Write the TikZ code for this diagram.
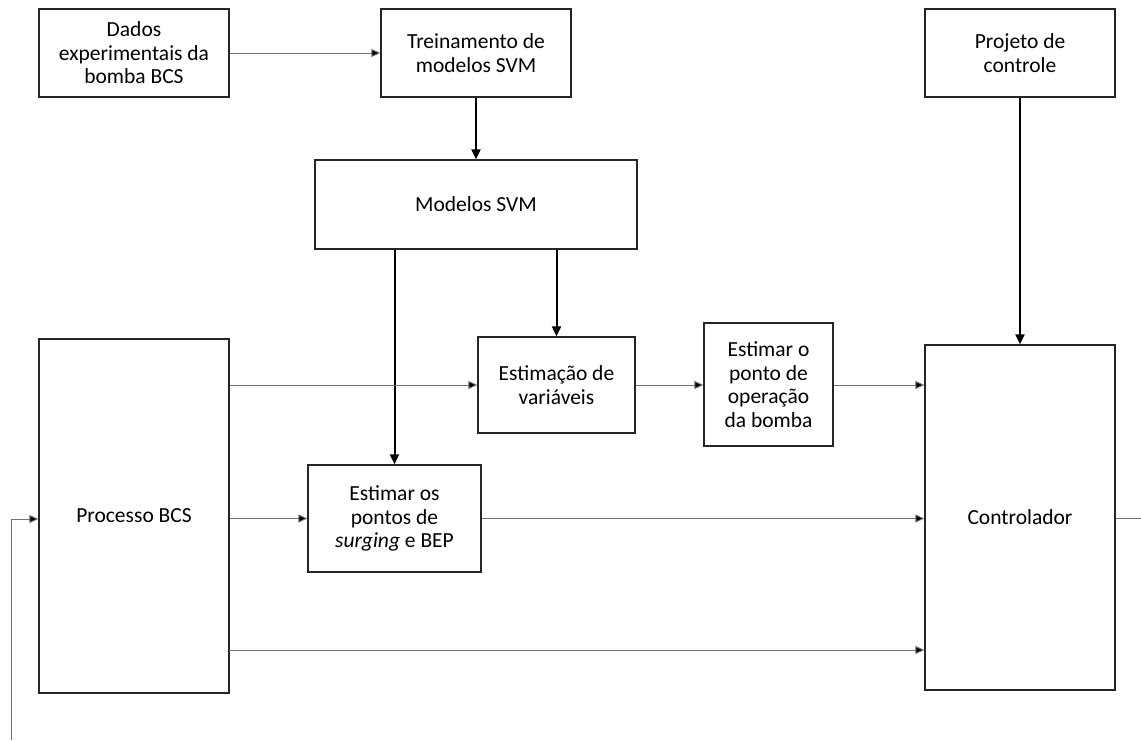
\documentclass[tikz,border=0pt]{standalone}
\usepackage{fontspec}
\setmainfont{Carlito}
\usetikzlibrary{arrows.meta}
\begin{document}
\begin{tikzpicture}[x=1pt,y=-1pt,
  blk/.style={draw=black!85,line width=1.3pt,align=center,inner sep=0pt,
    font=\fontsize{21.5}{23.5}\selectfont},
  thin/.style={draw=black!55,line width=0.9pt,-{Triangle[length=9pt,width=8pt,fill=black]}},
  thick/.style={draw=black,line width=2pt,-{Triangle[length=10pt,width=9pt]}},
  plain/.style={draw=black!55,line width=0.9pt}]
\useasboundingbox (0,0) rectangle (1141,740);
% blocks, placed by their centres
\node[blk,minimum width=190pt,minimum height=88pt] (dados) at (134,53) {Dados\\experimentais da\\bomba BCS};
\node[blk,minimum width=190pt,minimum height=88pt] (trein) at (476,53) {Treinamento de\\modelos SVM};
\node[blk,minimum width=190pt,minimum height=88pt] (proj) at (1020,53) {Projeto de\\controle};
\node[blk,minimum width=322pt,minimum height=89pt] (svm) at (476,204.5) {Modelos SVM};
\node[blk,minimum width=190pt,minimum height=354pt] (proc) at (134,516) {Processo BCS};
\node[blk,minimum width=157pt,minimum height=96pt] (estvar) at (556.5,385) {Estimação de\\variáveis};
\node[blk,minimum width=129pt,minimum height=123pt] (estop) at (768.5,384.5) {Estimar o\\ponto de\\operação\\da bomba};
\node[blk,minimum width=173pt,minimum height=107pt] (estsurg) at (394.5,518.5) {Estimar os\\pontos de\\\emph{surging} e BEP};
\node[blk,minimum width=190pt,minimum height=345pt] (ctrl) at (1020,517.5) {Controlador};
% free ends
\coordinate (low) at (229,650);
\coordinate (out) at (1141,518);
\coordinate (fb0) at (11,740);
\coordinate (fb1) at (11,519);
% thick connectors
\draw[thick] (trein.south) -- (svm.north);
\draw[thick] (proj.south) -- (ctrl.north);
\draw[thick] (svm.south -| estvar.north) -- (estvar.north);
\draw[thick] (svm.south -| estsurg.north) -- (estsurg.north);
% thin connectors
\draw[thin] (dados.east) -- (trein.west);
\draw[thin] (proc.east |- estvar.west) -- (estvar.west);
\draw[thin] (estvar.east) -- (estop.west |- estvar.east);
\draw[thin] (estop.east |- estvar.east) -- (ctrl.west |- estvar.east);
\draw[thin] (proc.east |- estsurg.west) -- (estsurg.west);
\draw[thin] (estsurg.east) -- (ctrl.west |- estsurg.east);
\draw[thin] (low) -- (ctrl.west |- low);
\draw[plain] (ctrl.east |- out) -- (out);
\draw[thin] (fb0) -- (fb1) -- (proc.west |- fb1);
\end{tikzpicture}
\end{document}
